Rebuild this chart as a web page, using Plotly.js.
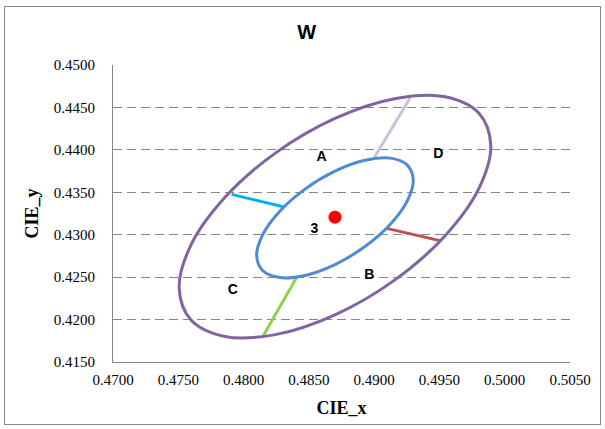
<!DOCTYPE html>
<html>
<head>
<meta charset="utf-8">
<script src="https://cdn.plot.ly/plotly-3.0.1.min.js"></script>
<style>
  html, body { margin: 0; padding: 0; background: #ffffff; }
  #frame { position: absolute; left: 4px; top: 6px; width: 595px; height: 417px; border: 1px solid #8a8a8a; }
  #chart { position: absolute; left: 0; top: 0; width: 605px; height: 429px; }
</style>
</head>
<body>
<div id="frame"></div>
<div id="chart"></div>
<script>
// Outer ellipse (purple)
const outerX = [0.498932, 0.498024, 0.495437, 0.491566, 0.487000, 0.482434, 0.478563, 0.475976, 0.475068, 0.475976, 0.478563, 0.482434, 0.487000, 0.491566, 0.495437, 0.498024, 0.498932];
const outerY = [0.440522, 0.435453, 0.429879, 0.424647, 0.420555, 0.418225, 0.418011, 0.419947, 0.423738, 0.428807, 0.434381, 0.439613, 0.443705, 0.446035, 0.446249, 0.444313, 0.440522];

// Inner ellipse (blue)
const innerX = [0.492997, 0.492541, 0.491241, 0.489295, 0.487000, 0.484705, 0.482759, 0.481459, 0.481003, 0.481459, 0.482759, 0.484705, 0.487000, 0.489295, 0.491241, 0.492541, 0.492997];
const innerY = [0.436435, 0.433990, 0.431239, 0.428603, 0.426483, 0.425201, 0.424953, 0.425776, 0.427545, 0.429990, 0.432741, 0.435377, 0.437497, 0.438779, 0.439027, 0.438204, 0.436435];

// Connector segments between the two ellipses
const cyanX = [0.47909, 0.48304];
const cyanY = [0.43475, 0.43330];
const lavenderX = [0.49275, 0.48994];
const lavenderY = [0.44610, 0.43890];
const redX = [0.49096, 0.49504];
const redY = [0.43075, 0.42930];
const greenX = [0.48407, 0.48151];
const greenY = [0.42500, 0.41810];

// Centre point
const centerX = [0.48700];
const centerY = [0.43207];

// Region labels
const labelText = ["A", "D", "3", "B", "C"];
const labelX = [0.48598, 0.49491, 0.48542, 0.48963, 0.47917];
const labelY = [0.43906, 0.43950, 0.43065, 0.42523, 0.42346];

// Axis ticks
const xTicks = [0.470, 0.475, 0.480, 0.485, 0.490, 0.495, 0.500, 0.505];
const yTicks = [0.415, 0.420, 0.425, 0.430, 0.435, 0.440, 0.445, 0.450];

function seg(x, y, color) {
  return { x: x, y: y, type: 'scatter', mode: 'lines', line: { color: color, width: 3 }, hoverinfo: 'skip' };
}

const serif = 'Liberation Serif, Times New Roman, serif';
const sans = 'Liberation Sans, Arial, sans-serif';

const traces = [
  seg(cyanX, cyanY, '#00B0F0'),
  seg(lavenderX, lavenderY, '#CCC0DA'),
  seg(redX, redY, '#C0504D'),
  seg(greenX, greenY, '#92D050'),
  { x: outerX, y: outerY, type: 'scatter', mode: 'lines', line: { color: '#8064A2', width: 3, shape: 'spline', smoothing: 1 } },
  { x: innerX, y: innerY, type: 'scatter', mode: 'lines', line: { color: '#4F8AD2', width: 3, shape: 'spline', smoothing: 1 } },
  { x: centerX, y: centerY, type: 'scatter', mode: 'markers', marker: { color: '#FF0000', size: 13 } },
  { x: labelX, y: labelY, type: 'scatter', mode: 'text', text: labelText.map(t => '<b>' + t + '</b>'),
    textposition: 'middle center', textfont: { family: sans, size: 14, color: '#000000' } }
];

const layout = {
  width: 605, height: 429, autosize: false,
  margin: { l: 113, r: 35, t: 65, b: 67, pad: 0 },
  paper_bgcolor: 'rgba(0,0,0,0)', plot_bgcolor: 'rgba(0,0,0,0)',
  showlegend: false, hovermode: false,
  title: { text: '<b>W</b>', font: { family: sans, size: 20, color: '#000000' },
           xref: 'container', yref: 'container', x: 0.507, y: 0.925, xanchor: 'center', yanchor: 'middle' },
  xaxis: {
    range: [0.470, 0.505], tickvals: xTicks, ticktext: xTicks.map(v => v.toFixed(4)),
    showgrid: false, zeroline: false, showline: true, linecolor: '#868686', linewidth: 1,
    ticks: '', ticklabelstandoff: 4,
    tickfont: { family: serif, size: 15, color: '#000000' },
    title: { text: '<b>CIE_x</b>', standoff: 14, font: { family: serif, size: 18, color: '#000000' } }
  },
  yaxis: {
    range: [0.415, 0.450], tickvals: yTicks, ticktext: yTicks.map(v => v.toFixed(4)),
    showgrid: true, gridcolor: '#868686', gridwidth: 1, griddash: '9px,5px',
    zeroline: false, showline: true, linecolor: '#868686', linewidth: 1,
    ticks: '', ticklabelstandoff: 14,
    tickfont: { family: serif, size: 15, color: '#000000' },
    title: { text: '<b>CIE_y</b>', standoff: 10, font: { family: serif, size: 18, color: '#000000' } }
  }
};

Plotly.newPlot('chart', traces, layout, { staticPlot: true, displayModeBar: false });
</script>
</body>
</html>
